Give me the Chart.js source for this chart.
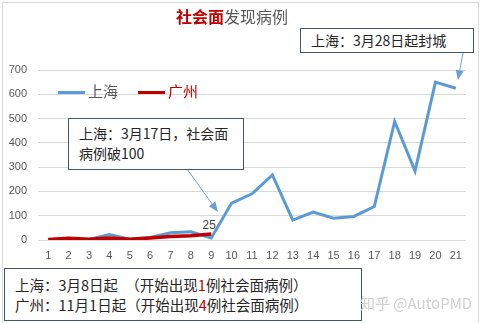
<!DOCTYPE html>
<html lang="zh">
<head>
    <meta charset="UTF-8">
    <title>社会面发现病例</title>
    <script src="https://cdn.jsdelivr.net/npm/chart.js"></script>
    <style>
        body { margin: 0; background: #fff; }
        #wrap {
            position: relative;
            width: 481px;
            height: 323px;
            overflow: hidden;
            font-family: "Noto Sans CJK SC", sans-serif;
        }
        #frame {
            position: absolute; left: 2px; top: 2px;
            width: 475px; height: 340px;
            border: 1px solid #d9d9d9;
        }
        canvas { position: absolute; left: 0; top: 0; }
        .title {
            position: absolute; left: 0; width: 464px; top: 4px;
            text-align: center; font-size: 16px; color: #595959;
        }
        .title b { color: #c00000; }
        .legend { position: absolute; top: 80px; font-size: 15px; }
        .legend i {
            display: inline-block; width: 27px; height: 3px;
            vertical-align: middle; margin-right: 3px;
        }
        .note {
            position: absolute; background: #fff;
            border: 1px solid #44546a; color: #262626;
            font-size: 14px; line-height: 20px;
            box-sizing: border-box;
        }
        .note em { font-style: normal; color: #c00000; }
        .mark { position: absolute; color: #cfcfcf; font-size: 15px; }
    </style>
</head>
<body>
<div id="wrap">
    <div id="frame"></div>
    <canvas id="caseChart" width="481" height="323"></canvas>
    <div class="title"><b>社会面</b>发现病例</div>
    <div class="legend" style="left:58px;color:#595959"><i style="background:#5b9bd5"></i>上海</div>
    <div class="legend" style="left:138px;color:#c00000"><i style="background:#c00000"></i>广州</div>
    <div class="note" style="left:300px;top:28px;width:174px;height:25px;padding:1px 0 0 10px">上海：3月28日起封城</div>
    <div class="note" style="left:68px;top:118px;width:176px;height:52px;padding:4px 0 0 10px">上海：3月17日，社会面<br>病例破100</div>
    <div class="note" style="left:4px;top:268px;width:358px;height:53px;padding:6px 0 0 10px;font-size:14.5px">上海：3月8日起　（开始出现<em>1</em>例社会面病例）<br>广州：11月1日起（开始出现<em>4</em>例社会面病例）</div>
    <div class="mark" style="left:360px;top:292px">知乎 @AutoPMD</div>
</div>

<script>
    // day index since first community case
    const days = ['1','2','3','4','5','6','7','8','9','10','11','12','13','14','15','16','17','18','19','20','21'];
    const shanghai = [1, 6, 2, 22, 3, 10, 30, 34, 8, 152, 190, 268, 82, 115, 90, 97, 138, 488, 284, 650, 625];
    const guangzhou = [2, 7, 3, 8, 3, 8, 14, 18, 25];
    const yTicks = [0, 100, 200, 300, 400, 500, 600, 700];

    // arrows from the note boxes to the chart: [startX, startY, day index, value]
    const arrows = [
        [463, 53, 20.1, 658],
        [187, 169, 8.33, 115]
    ];

    const extras = {
        id: 'extras',
        afterDatasetsDraw(chart) {
            const ctx = chart.ctx;
            const xs = chart.scales.x, ys = chart.scales.y;
            ctx.save();
            ctx.strokeStyle = '#6a9fd0';
            ctx.fillStyle = '#6a9fd0';
            ctx.lineWidth = 1;
            arrows.forEach(([sx, sy, idx, val]) => {
                const tx = xs.getPixelForValue(idx), ty = ys.getPixelForValue(val);
                const ang = Math.atan2(ty - sy, tx - sx);
                const hl = 10, hw = 4;
                const bx = tx - hl * Math.cos(ang), by = ty - hl * Math.sin(ang);
                ctx.beginPath();
                ctx.moveTo(sx, sy);
                ctx.lineTo(bx, by);
                ctx.stroke();
                ctx.beginPath();
                ctx.moveTo(tx, ty);
                ctx.lineTo(bx + hw * Math.sin(ang), by - hw * Math.cos(ang));
                ctx.lineTo(bx - hw * Math.sin(ang), by + hw * Math.cos(ang));
                ctx.closePath();
                ctx.fill();
            });
            // value label on last Guangzhou point
            const meta = chart.getDatasetMeta(1);
            const pt = meta.data[guangzhou.length - 1];
            ctx.fillStyle = '#404040';
            ctx.font = '12px "Liberation Sans", sans-serif';
            ctx.textAlign = 'center';
            ctx.textBaseline = 'bottom';
            ctx.fillText(String(guangzhou[guangzhou.length - 1]), pt.x - 2, pt.y - 2);
            ctx.restore();
        }
    };

    const ctx = document.getElementById('caseChart').getContext('2d');
    new Chart(ctx, {
        type: 'line',
        data: {
            labels: days,
            datasets: [
                { label: '上海', data: shanghai, borderColor: '#5b9bd5', borderWidth: 3, order: 1 },
                { label: '广州', data: guangzhou, borderColor: '#c00000', borderWidth: 3.5, order: 0 }
            ]
        },
        options: {
            responsive: false,
            animation: false,
            devicePixelRatio: 1,
            layout: { padding: { left: 0, right: 15, top: 70, bottom: 0 } },
            elements: { point: { radius: 0 }, line: { tension: 0, borderJoinStyle: 'miter' } },
            plugins: { legend: { display: false }, title: { display: false }, tooltip: { enabled: false } },
            scales: {
                x: {
                    offset: true,
                    grid: { display: false, drawTicks: false },
                    border: { display: false },
                    ticks: { color: '#595959', padding: 9, maxRotation: 0, autoSkip: false,
                             font: { family: '"Liberation Sans", sans-serif', size: 11 } },
                    afterFit(s) { s.height = 83; }
                },
                y: {
                    min: 0, max: 700,
                    afterBuildTicks(s) { s.ticks = yTicks.map(v => ({ value: v })); },
                    grid: { color: '#d9d9d9', drawTicks: false },
                    border: { display: false },
                    ticks: { color: '#595959', padding: 11,
                             font: { family: '"Liberation Sans", sans-serif', size: 11 } },
                    afterFit(s) { s.width = 38; }
                }
            }
        },
        plugins: [extras]
    });
</script>
</body>
</html>
